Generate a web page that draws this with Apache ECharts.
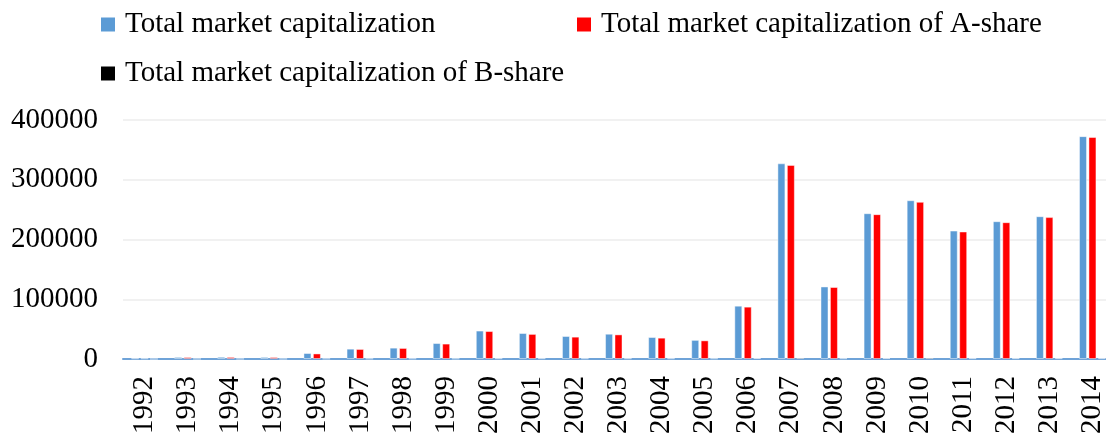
<!DOCTYPE html>
<html>
<head>
<meta charset="utf-8">
<title>Market capitalization</title>
<script src="https://cdn.jsdelivr.net/npm/echarts@6/dist/echarts.min.js"></script>
<style>
    html, body {
        margin: 0;
        padding: 0;
        background: #fff;
    }

    #chart {
        width: 1106px;
        height: 437px;
    }
</style>
</head>
<body>
<div id="chart"></div>
<script>
    // 年份
    const years = ['1992', '1993', '1994', '1995', '1996', '1997', '1998', '1999', '2000', '2001', '2002', '2003',
        '2004', '2005', '2006', '2007', '2008', '2009', '2010', '2011', '2012', '2013', '2014']
    const totalCap = [1050, 3500, 3700, 3500, 10000, 17300, 19000, 26700, 47600, 43500, 38500, 42300,
        36800, 32000, 89200, 327500, 121400, 244000, 265700, 215000, 230600, 239000, 373000]
    const aShareCap = [950, 3250, 3450, 3250, 9300, 16800, 18500, 25800, 46800, 42000, 37400, 41200,
        35700, 31200, 87600, 324800, 120500, 242400, 263000, 213400, 229000, 237500, 371500]
    const bShareCap = [100, 230, 240, 220, 540, 630, 800, 670, 1200, 1300, 1000, 1150,
        1150, 900, 1700, 2200, 1100, 1500, 2300, 1400, 1400, 1400, 1400]
    const yTicks = [0, 100000, 200000, 300000, 400000]

    const font = 'Liberation Serif'
    const names = ['Total market capitalization', 'Total market capitalization of A-share',
        'Total market capitalization of B-share']

    function legendAt(name, left, top) {
        return {
            data: [name],
            left: left,
            top: top,
            padding: 0,
            icon: 'rect',
            itemWidth: 14,
            itemHeight: 14,
            itemStyle: { borderWidth: 0 },
            textStyle: {
                fontFamily: font,
                fontSize: 29,
                lineHeight: 28,
                color: '#000',
                padding: [0, 0, 0, 5]
            }
        }
    }

    let myChart = echarts.init(document.getElementById('chart'))
    myChart.setOption({
        animation: false,
        color: ['#5B9BD5', '#FF0000', '#000000'],
        legend: [
            legendAt(names[0], 101, 10),
            legendAt(names[1], 577, 10),
            legendAt(names[2], 101, 59)
        ],
        grid: {
            left: 123,
            top: 120,
            width: 991,
            height: 239,
            containLabel: false,
            outerBoundsMode: 'none'
        },
        xAxis: {
            type: 'category',
            data: years,
            axisTick: { show: false },
            axisLine: {
                lineStyle: { color: '#6FA3D8', width: 2 }
            },
            axisLabel: {
                rotate: 90,
                margin: 17,
                interval: 0,
                fontFamily: font,
                fontSize: 29,
                color: '#000'
            }
        },
        yAxis: {
            type: 'value',
            min: yTicks[0],
            max: yTicks[yTicks.length - 1],
            interval: 100000,
            axisLine: { show: false },
            axisTick: { show: false },
            splitLine: {
                lineStyle: { color: '#EDEDED', width: 1.5 }
            },
            axisLabel: {
                margin: 25,
                fontFamily: font,
                fontSize: 29,
                color: '#000',
                formatter: function (v) {
                    return String(v)
                }
            }
        },
        series: [{
                name: names[0],
                type: 'bar',
                data: totalCap,
                barWidth: 8,
                barGap: '18%',
                itemStyle: { borderColor: 'rgba(255,255,255,0.45)', borderWidth: 1 }
            },
            {
                name: names[1],
                type: 'bar',
                data: aShareCap,
                barWidth: 8,
                barGap: '18%',
                itemStyle: { borderColor: 'rgba(255,255,255,0.45)', borderWidth: 1 }
            },
            {
                name: names[2],
                type: 'bar',
                data: bShareCap,
                barWidth: 8,
                barGap: '18%',
                itemStyle: { borderColor: 'rgba(255,255,255,0.45)', borderWidth: 1 }
            }
        ]
    })
</script>
</body>
</html>
